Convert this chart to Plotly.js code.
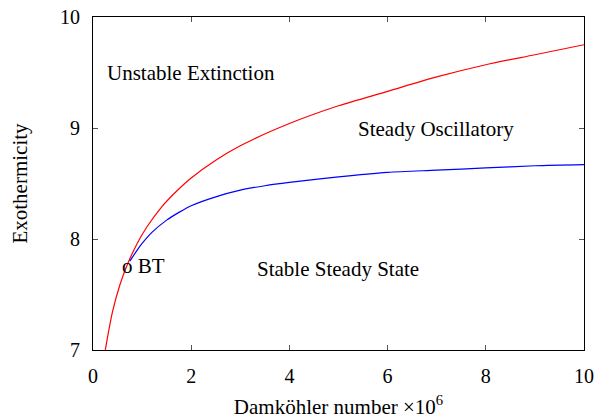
<!DOCTYPE html>
<html>
<head>
<meta charset="utf-8">
<script src="https://cdn.plot.ly/plotly-3.0.1.min.js"></script>
<style>html,body{margin:0;padding:0;background:#fff;}#chart{width:597px;height:419px;}</style>
</head>
<body>
<div id="chart"></div>
<script>
// Red boundary
const redX = [0.25, 0.4, 0.55, 0.7, 0.9, 1.1, 1.4, 1.7, 2.0, 2.5, 3.0, 4.0, 5.0, 6.0, 7.0, 8.0, 9.0, 10.0];
const redY = [7.00, 7.35, 7.59, 7.77, 7.96, 8.11, 8.29, 8.43, 8.55, 8.71, 8.84, 9.04, 9.20, 9.33, 9.46, 9.57, 9.66, 9.75];
// Blue boundary
const blueX = [0.75, 0.9, 1.0, 1.2, 1.5, 1.75, 2.0, 2.5, 3.0, 3.5, 4.0, 5.0, 6.0, 7.0, 8.0, 9.0, 10.0];
const blueY = [7.80, 7.90, 7.96, 8.06, 8.17, 8.24, 8.30, 8.38, 8.44, 8.48, 8.51, 8.56, 8.60, 8.62, 8.64, 8.66, 8.67];
// Region labels
const labelText = ["Unstable Extinction", "Steady Oscillatory", "Stable Steady State", "o BT"];
const labelX = [0.25, 5.36, 3.30, 0.55];
const labelY = [9.494, 8.99, 7.73, 7.76];
const xTicks = [0, 2, 4, 6, 8, 10];
const yTicks = [7, 8, 9, 10];

const font = "Liberation Serif, Times New Roman, DejaVu Serif, serif";

const traces = [
  {x: redX, y: redY, mode: 'lines', line: {color: '#ff0000', width: 1.2, shape: 'spline', smoothing: 0.8}, hoverinfo: 'skip'},
  {x: blueX, y: blueY, mode: 'lines', line: {color: '#0000ff', width: 1.2, shape: 'spline', smoothing: 0.8}, hoverinfo: 'skip'}
];

const annotations = labelText.map((t, i) => ({
  x: labelX[i], y: labelY[i], xref: 'x', yref: 'y', text: t, showarrow: false,
  xanchor: 'left', yanchor: 'middle', font: {family: font, size: 21, color: '#000'}
}));

const layout = {
  width: 597, height: 419,
  margin: {l: 92.5, r: 13, t: 17, b: 69},
  paper_bgcolor: '#fff', plot_bgcolor: '#fff',
  showlegend: false,
  font: {family: font, size: 20, color: '#000'},
  xaxis: {
    range: [0, 10], tickvals: xTicks, ticktext: xTicks.map(String),
    ticks: 'inside', ticklen: 5, tickcolor: '#555', mirror: 'ticks',
    showline: true, linecolor: '#000', linewidth: 1, showgrid: false, zeroline: false,
    tickfont: {family: font, size: 20}, ticklabelstandoff: 8,
    title: {text: 'Damköhler number ×10<sup>6</sup>', font: {family: font, size: 21}, standoff: 16}
  },
  yaxis: {
    range: [7, 10], tickvals: yTicks, ticktext: yTicks.map(String),
    ticks: 'inside', ticklen: 5, tickcolor: '#555', mirror: 'ticks',
    showline: true, linecolor: '#000', linewidth: 1, showgrid: false, zeroline: false,
    tickfont: {family: font, size: 20}, ticklabelstandoff: 8,
    title: {text: 'Exothermicity', font: {family: font, size: 21}, standoff: 26}
  },
  annotations: annotations
};

Plotly.newPlot('chart', traces, layout, {staticPlot: true, displayModeBar: false});
</script>
</body>
</html>
